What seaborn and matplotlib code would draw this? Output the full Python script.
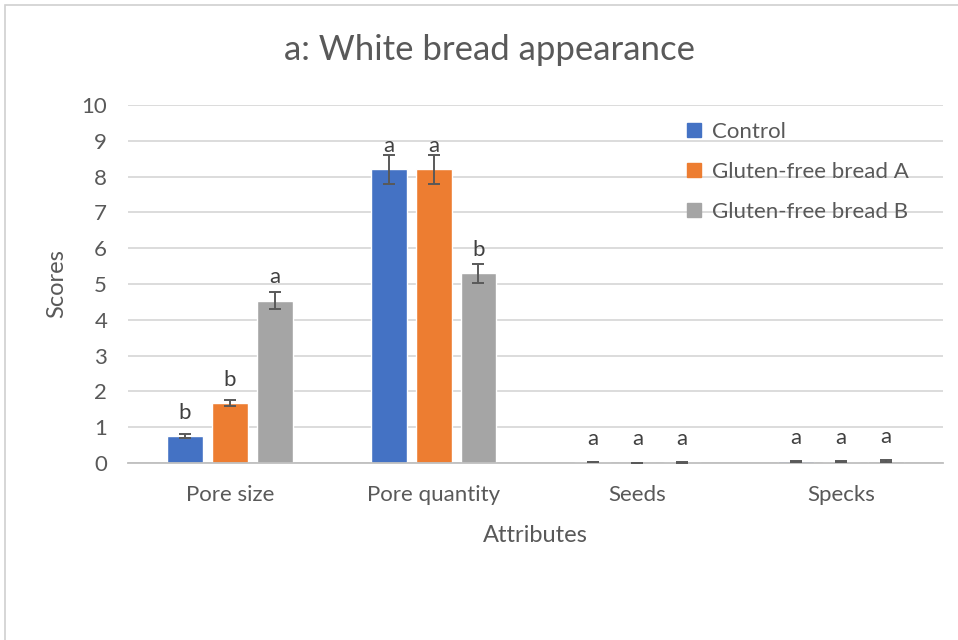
import matplotlib
matplotlib.use("Agg")
import matplotlib.pyplot as plt
from matplotlib.lines import Line2D
from matplotlib.patches import Rectangle
import seaborn as sns
import pandas as pd

# Sensory scores for white bread appearance
attributes = ["Pore size", "Pore quantity", "Seeds", "Specks"]
breads = ["Control", "Gluten-free bread A", "Gluten-free bread B"]
control_mean = [0.75, 8.20, 0.02, 0.05]
bread_a_mean = [1.67, 8.20, 0.01, 0.04]
bread_b_mean = [4.53, 5.30, 0.02, 0.06]
control_err = [0.05, 0.41, 0.00, 0.01]
bread_a_err = [0.09, 0.41, 0.00, 0.01]
bread_b_err = [0.24, 0.27, 0.01, 0.02]
control_letters = ["b", "a", "a", "a"]
bread_a_letters = ["b", "a", "a", "a"]
bread_b_letters = ["a", "b", "a", "a"]

colors = ["#4472C4", "#ED7D31", "#A5A5A5"]
text_color = "#595959"
grid_color = "#D9D9D9"

means = [control_mean, bread_a_mean, bread_b_mean]
errs = [control_err, bread_a_err, bread_b_err]
letters = [control_letters, bread_a_letters, bread_b_letters]

rows = []
for b, m in zip(breads, means):
    for a, v in zip(attributes, m):
        rows.append({"Attributes": a, "Bread": b, "Score": v})
df = pd.DataFrame(rows)

sns.set_theme(style="white")
plt.rcParams["font.family"] = ["Lato", "DejaVu Sans"]
plt.rcParams["text.color"] = text_color

fig = plt.figure(figsize=(9.58, 6.4), dpi=100)
ax = fig.add_axes([128 / 958, 1 - 463 / 640, (943 - 128) / 958, (463 - 105) / 640])

sns.barplot(data=df, x="Attributes", y="Score", hue="Bread", order=attributes,
            hue_order=breads, palette=colors, width=0.66, gap=0.2,
            errorbar=None, saturation=1, legend=False, ax=ax, zorder=2)

# error bars and significance letters at the centre of each bar
for i, b in enumerate(breads):
    container = ax.containers[i]
    for j, patch in enumerate(container.patches):
        xc = patch.get_x() + patch.get_width() / 2
        val = means[i][j]
        err = errs[i][j]
        ax.errorbar(xc, val, yerr=err, fmt="none", ecolor="#595959",
                    elinewidth=1.4, capsize=4.3, capthick=1.4, zorder=3)
        ax.annotate(letters[i][j], (xc, val), xytext=(0, 12.5),
                    textcoords="offset points", ha="center", va="baseline",
                    fontsize=16, color="#404040")

ax.set_ylim(0, 10)
ax.set_xlim(-0.5, 3.5)
ax.set_yticks(range(0, 11))
ax.yaxis.grid(True, color=grid_color, linewidth=1.3)
ax.set_axisbelow(True)
for side in ["top", "right", "left"]:
    ax.spines[side].set_visible(False)
ax.spines["bottom"].set_color("#BFBFBF")
ax.spines["bottom"].set_linewidth(1.3)
ax.tick_params(axis="both", length=0, labelsize=16, labelcolor=text_color)
ax.tick_params(axis="y", pad=15)
ax.tick_params(axis="x", pad=16)

ax.set_xlabel("Attributes", fontsize=17, color=text_color, labelpad=14)
ax.set_ylabel("Scores", fontsize=17, color=text_color, labelpad=10)
fig.text(490 / 958, 1 - 50 / 640, "a: White bread appearance", fontsize=25,
         color=text_color, ha="center", va="center")

handles = [Line2D([], [], marker="s", linestyle="none", markersize=10,
                  markerfacecolor=c, markeredgecolor=c) for c in colors]
fig.legend(handles, breads, loc="upper left", bbox_to_anchor=(674 / 958, 1 - 113 / 640),
           frameon=False, fontsize=16, handletextpad=0.3, labelspacing=0.9,
           handlelength=1.0, borderaxespad=0, labelcolor=text_color)

# outer chart frame
fig.add_artist(Rectangle((4.5 / 958, -0.1), 1.2, 1.1 - 5 / 640,
                         transform=fig.transFigure, fill=False,
                         edgecolor="#D0D0D0", linewidth=1.2))

fig.savefig("out.png", dpi=100)
